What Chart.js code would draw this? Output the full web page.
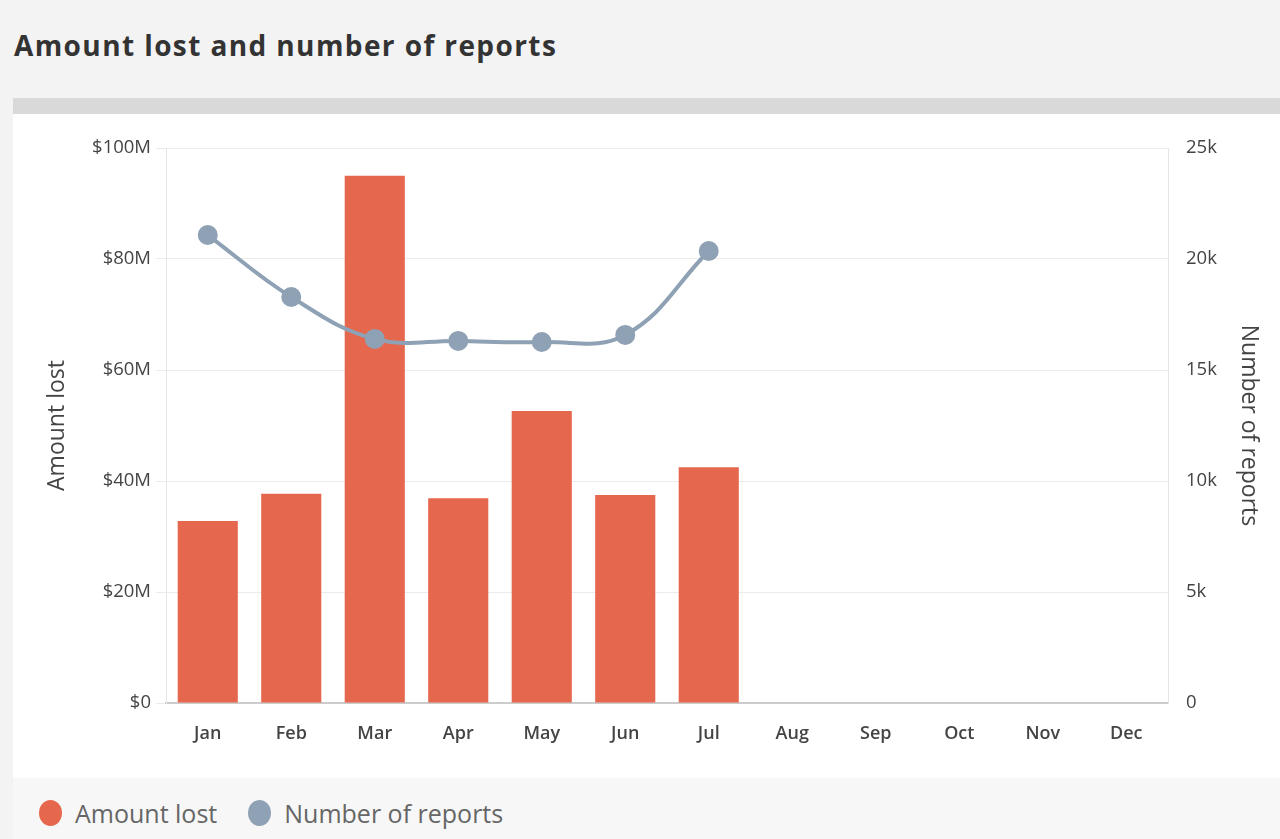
<!DOCTYPE html>
<html><head><meta charset="utf-8">
<script src="https://cdn.jsdelivr.net/npm/chart.js@4"></script>
<style>
html,body{margin:0;padding:0;width:1280px;height:839px;background:#f3f3f3;overflow:hidden;font-family:"Open Sans",sans-serif;}
#title{position:absolute;left:14px;top:26px;font-size:28px;font-weight:700;color:#333;letter-spacing:1.4px;white-space:nowrap;}
#bar{position:absolute;left:13px;top:98px;width:1267px;height:16px;background:#d9d9d9;}
#panel{position:absolute;left:13px;top:114px;width:1267px;height:664px;background:#fff;}
#legendArea{position:absolute;left:13px;top:778px;width:1267px;height:61px;background:#f7f7f7;}
#legend{position:absolute;left:26px;top:4px;height:61px;display:flex;align-items:center;font-size:25px;color:#666;}
.item{display:flex;align-items:center;margin-right:31px;}
.dot{width:23px;height:26px;border-radius:50%;margin-right:13px;}
</style></head>
<body>
<div id="title">Amount lost and number of reports</div>
<div id="bar"></div>
<div id="panel"><canvas id="c" width="1267" height="664"></canvas></div>
<div id="legendArea"><div id="legend"></div></div>
<script>
const months = ["Jan","Feb","Mar","Apr","May","Jun","Jul","Aug","Sep","Oct","Nov","Dec"];
const amountLost = [32.8e6, 37.7e6, 95.0e6, 36.9e6, 52.6e6, 37.5e6, 42.5e6, null, null, null, null, null];
const numberOfReports = [21080, 18290, 16400, 16310, 16260, 16580, 20360, null, null, null, null, null];
const seriesNames = ["Amount lost", "Number of reports"];
const seriesColors = ["#e5674d", "#8fa1b4"];

const ctx = document.getElementById('c');
const chart = new Chart(ctx, {
  data: {
    labels: months,
    datasets: [
      {type:'line', label:seriesNames[1], data:numberOfReports, yAxisID:'y1',
       borderColor:seriesColors[1], backgroundColor:seriesColors[1], borderWidth:4,
       pointRadius:8, pointHoverRadius:8, tension:0.4, order:0},
      {type:'bar', label:seriesNames[0], data:amountLost, yAxisID:'y',
       backgroundColor:seriesColors[0], categoryPercentage:0.8, barPercentage:0.9, order:1}
    ]
  },
  options: {
    responsive:false, animation:false,
    layout:{padding:{top:34,bottom:0,left:0,right:0}},
    plugins:{legend:{display:false}, tooltip:{enabled:false}},
    scales:{
      x:{
        grid:{display:false, drawTicks:false},
        border:{color:'#cccccc', width:2},
        ticks:{padding:20, color:'#444', font:{family:'Open Sans', size:18, weight:'600'}},
        afterFit(s){ s.height = 75; }
      },
      y:{
        position:'left', min:0, max:100e6,
        ticks:{stepSize:20e6, padding:5, color:'#444', font:{family:'Open Sans', size:18.5},
          callback:v => '$' + (v/1e6) + (v===0 ? '' : 'M')},
        grid:{color:'#ebebeb', tickLength:10},
        border:{color:'#e6e6e6'},
        title:{display:true, text:'Amount lost', color:'#444', font:{family:'Open Sans', size:23}, padding:{top:31,bottom:0}},
        afterFit(s){ s.width = 153; }
      },
      y1:{
        position:'right', min:0, max:25000,
        ticks:{stepSize:5000, padding:18, color:'#444', font:{family:'Open Sans', size:18.5},
          callback:v => v===0 ? '0' : (v/1000)+'k'},
        grid:{drawOnChartArea:false, drawTicks:false},
        border:{color:'#e6e6e6'},
        title:{display:true, text:'Number of reports', color:'#444', font:{family:'Open Sans', size:23}, padding:{top:18,bottom:0}},
        afterFit(s){ s.width = 112; }
      }
    }
  }
});

const legend = document.getElementById('legend');
[0,1].forEach(i => {
  const it = document.createElement('div'); it.className='item';
  const d = document.createElement('span'); d.className='dot'; d.style.background = seriesColors[i];
  const t = document.createElement('span'); t.textContent = seriesNames[i];
  it.appendChild(d); it.appendChild(t); legend.appendChild(it);
});
</script>
</body></html>
